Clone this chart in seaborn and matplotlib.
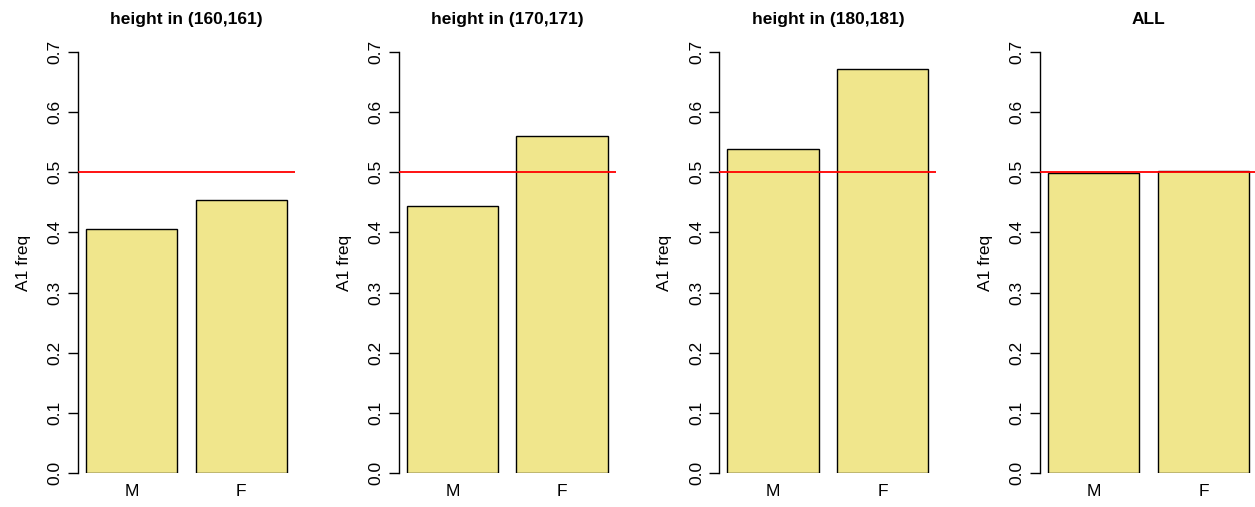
import pandas as pd
import matplotlib.pyplot as plt
import seaborn as sns

sexes = ["M", "F"]
titles = ["height in (160,161)", "height in (170,171)", "height in (180,181)", "ALL"]
freq_m = [0.406, 0.444, 0.538, 0.499]
freq_f = [0.454, 0.560, 0.672, 0.502]
yticks = [0.0, 0.1, 0.2, 0.3, 0.4, 0.5, 0.6, 0.7]

sns.set_style("white")
plt.rcParams["font.family"] = ["Liberation Sans", "DejaVu Sans"]
plt.rcParams["text.color"] = "black"
plt.rcParams["axes.labelcolor"] = "black"
plt.rcParams["xtick.color"] = "black"
plt.rcParams["ytick.color"] = "black"

fig = plt.figure(figsize=(12.55, 5.07), dpi=100)
W, H = 1255, 507

for i, title in enumerate(titles):
    left = 78 + 320.7 * i
    ax = fig.add_axes([left / W, 34 / H, 217 / W, 421 / H])
    df = pd.DataFrame({"sex": sexes, "freq": [freq_m[i], freq_f[i]]})
    sns.barplot(data=df, x="sex", y="freq", order=sexes, color="#F0E68C",
                saturation=1, width=1 / 1.2, edgecolor="black", linewidth=1,
                ax=ax)
    ax.axhline(0.5, color="red", lw=1.3, zorder=5)
    ax.set_xlim(-0.49, 1.49)
    ax.set_ylim(0, 0.7)
    ax.set_yticks(yticks)
    ax.set_yticklabels([f"{v:.1f}" for v in yticks], rotation=90, va="center",
                       fontsize=12.5)
    ax.tick_params(axis="y", length=7, width=1, pad=4, left=True, color="black")
    ax.tick_params(axis="x", length=0, pad=8, labelsize=12.5)
    for s in ["top", "right", "bottom"]:
        ax.spines[s].set_visible(False)
    ax.spines["left"].set_color("black")
    ax.spines["left"].set_linewidth(1)
    ax.set_xlabel("")
    ax.set_ylabel("A1 freq", fontsize=12.5, labelpad=12)
    ax.set_title(title, fontsize=12.5, fontweight="bold", pad=20, color="black")

fig.savefig("out.png", dpi=100)
